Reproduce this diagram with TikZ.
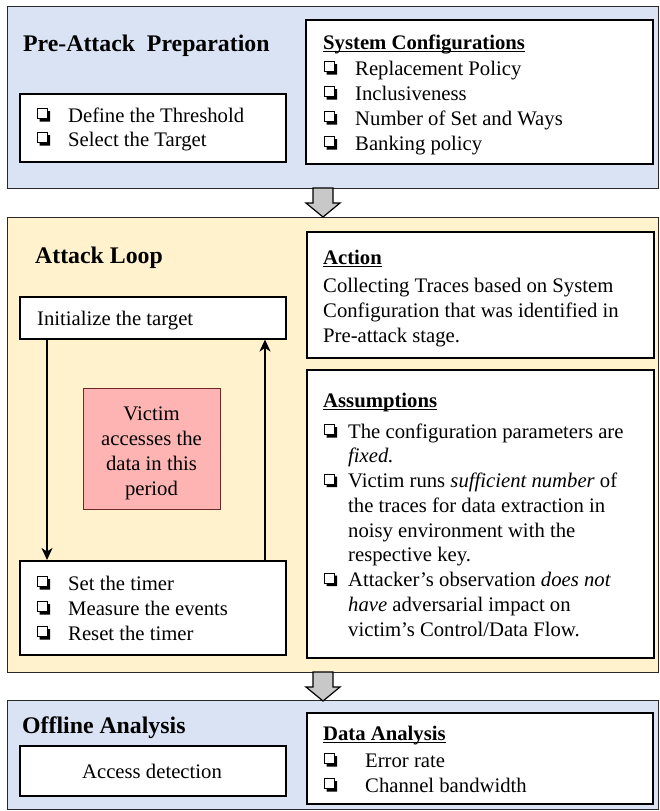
\documentclass[tikz,border=0pt]{standalone}
\usepackage{fontspec}
\setmainfont{Liberation Serif}
\usetikzlibrary{arrows.meta,calc}
\definecolor{pblue}{RGB}{218,227,243}
\definecolor{pyellow}{RGB}{255,242,204}
\definecolor{vpink}{RGB}{255,180,180}
\definecolor{vborder}{RGB}{110,40,40}
\definecolor{agray}{RGB}{200,200,200}
\definecolor{pborder}{RGB}{40,40,40}
\tikzset{
 panel/.style={draw=pborder, line width=1.3pt, anchor=north west, inner sep=0pt},
 box/.style={draw=black, line width=1.5pt, fill=white, anchor=north west, inner sep=0pt},
 body/.style={font=\fontsize{20.7}{25}\selectfont, inner sep=0pt},
 ttl/.style={font=\fontsize{23.8}{28}\selectfont\bfseries, inner sep=0pt, anchor=base west},
 hd/.style={font=\fontsize{20.7}{25}\selectfont\bfseries, inner sep=0pt, anchor=base west},
 uline/.style={line width=1.2pt},
 looparrow/.style={line width=1.7pt, -{Stealth[length=12pt,width=11pt,inset=3.5pt]}},
 blockarrow/.style={draw=black, line width=1.2pt, fill=agray, line join=miter},
 chk/.pic={
   \draw[line width=0.9pt] (0.5,-13.5) rectangle (10.5,-3.5);
   \fill (2.5,-3.5) -- (10.5,-3.5) -- (10.5,-11) -- (13,-11) -- (13,-0.5) -- (2.5,-0.5) -- cycle;
 },
 barrow/.pic={
   \draw[blockarrow] (-10,0) -- (-10,15) -- (-17,15) -- (0,29) -- (17,15) -- (10,15) -- (10,0) -- cycle;
 }
}
\newcommand{\myitem}[5]{%
  \pic at (#2,#4) {chk};
  \node[body, anchor=base west] (#1) at (#3,#4) {#5};
}
\begin{document}
\begin{tikzpicture}[x=1pt,y=-1pt]
\useasboundingbox (0,0) rectangle (659,811);
% panels
\node[panel, fill=pblue, minimum width=651pt, minimum height=182pt] (pre) at (7,6) {};
\node[panel, fill=pyellow, minimum width=651pt, minimum height=455pt] (loop) at (7,217) {};
\node[panel, fill=pblue, minimum width=651pt, minimum height=109pt] (off) at (7,700) {};
% block arrows
\coordinate (ba1) at (323,188);
\coordinate (ba2) at (323,672);
\pic at (ba1) {barrow};
\pic at (ba2) {barrow};
% titles
\node[ttl] (pret) at (23,51) {Pre-Attack\ \ Preparation};
\node[ttl] (loopt) at (35,263) {Attack Loop};
\node[ttl] (offt) at (22,733) {Offline Analysis};
% pre-attack boxes
\node[box, minimum width=266pt, minimum height=68pt] (prebox) at (19,93) {};
\myitem{pa}{37}{68}{122}{Define the Threshold}
\myitem{pb}{37}{68}{146}{Select the Target}
\node[box, minimum width=347pt, minimum height=144pt] (sys) at (305,19) {};
\node[hd] (syst) at (323,49) {System Configurations};
\draw[uline] ($(syst.base west)+(0,2.5)$) -- ($(syst.base east)+(0,2.5)$);
\myitem{sa}{324}{355}{75}{Replacement Policy}
\myitem{sb}{324}{355}{100}{Inclusiveness}
\myitem{sc}{324}{355}{125}{Number of Set and Ways}
\myitem{sd}{324}{355}{150}{Banking policy}
% attack loop
\node[box, minimum width=266pt, minimum height=42pt] (init) at (19,296) {};
\node[body, anchor=base west] (initt) at (37,325) {Initialize the target};
\node[box, fill=vpink, draw=vborder, line width=1.2pt, minimum width=137pt, minimum height=121pt] (victim) at (83,388) {};
\node[body, anchor=base] (v1) at (151.5,420) {Victim};
\node[body, anchor=base] (v2) at (151.5,445) {accesses the};
\node[body, anchor=base] (v3) at (151.5,470) {data in this};
\node[body, anchor=base] (v4) at (151.5,495) {period};
\node[box, minimum width=266pt, minimum height=94pt] (timer) at (19,560) {};
\myitem{ta}{37}{68}{590}{Set the timer}
\myitem{tb}{37}{68}{615}{Measure the events}
\myitem{tc}{37}{68}{640}{Reset the timer}
\coordinate (dx) at (47,0);
\coordinate (ux) at (265,0);
\draw[looparrow] (init.south -| dx) -- (timer.north -| dx);
\draw[looparrow] (timer.north -| ux) -- (init.south -| ux);
\node[box, minimum width=347pt, minimum height=126pt] (action) at (306,231) {};
\node[hd] (actt) at (323,264) {Action};
\draw[uline] ($(actt.base west)+(0,2.5)$) -- ($(actt.base east)+(0,2.5)$);
\node[body, anchor=base west] (ac1) at (323,292) {Collecting Traces based on System};
\node[body, anchor=base west] (ac2) at (323,317) {Configuration that was identified in};
\node[body, anchor=base west] (ac3) at (323,342) {Pre-attack stage.};
\node[box, minimum width=347pt, minimum height=288pt] (assump) at (306,369) {};
\node[hd] (asst) at (323,407) {Assumptions};
\draw[uline] ($(asst.base west)+(0,2.5)$) -- ($(asst.base east)+(0,2.5)$);
\myitem{aa}{324}{348}{438}{The configuration parameters are}
\node[body, anchor=base west] (ab) at (348,462.75) {\textit{fixed.}};
\myitem{ac}{324}{348}{487.5}{Victim runs \textit{sufficient number} of}
\node[body, anchor=base west] (ad) at (348,512.25) {the traces for data extraction in};
\node[body, anchor=base west] (ae) at (348,537) {noisy environment with the};
\node[body, anchor=base west] (af) at (348,561.75) {respective key.};
\myitem{ag}{324}{348}{586.5}{Attacker’s observation \textit{does not}}
\node[body, anchor=base west] (ah) at (348,611.25) {\textit{have} adversarial impact on};
\node[body, anchor=base west] (ai) at (348,636) {victim’s Control/Data Flow.};
% offline
\node[box, minimum width=266pt, minimum height=50pt] (acc) at (19,745) {};
\node[body, anchor=base] (acct) at (152,778) {Access detection};
\node[box, minimum width=346pt, minimum height=91pt] (data) at (306,712) {};
\node[hd] (datat) at (323,740) {Data Analysis};
\draw[uline] ($(datat.base west)+(0,2.5)$) -- ($(datat.base east)+(0,2.5)$);
\myitem{da}{324}{365}{767}{Error rate}
\myitem{db}{324}{365}{792}{Channel bandwidth}
\end{tikzpicture}
\end{document}
